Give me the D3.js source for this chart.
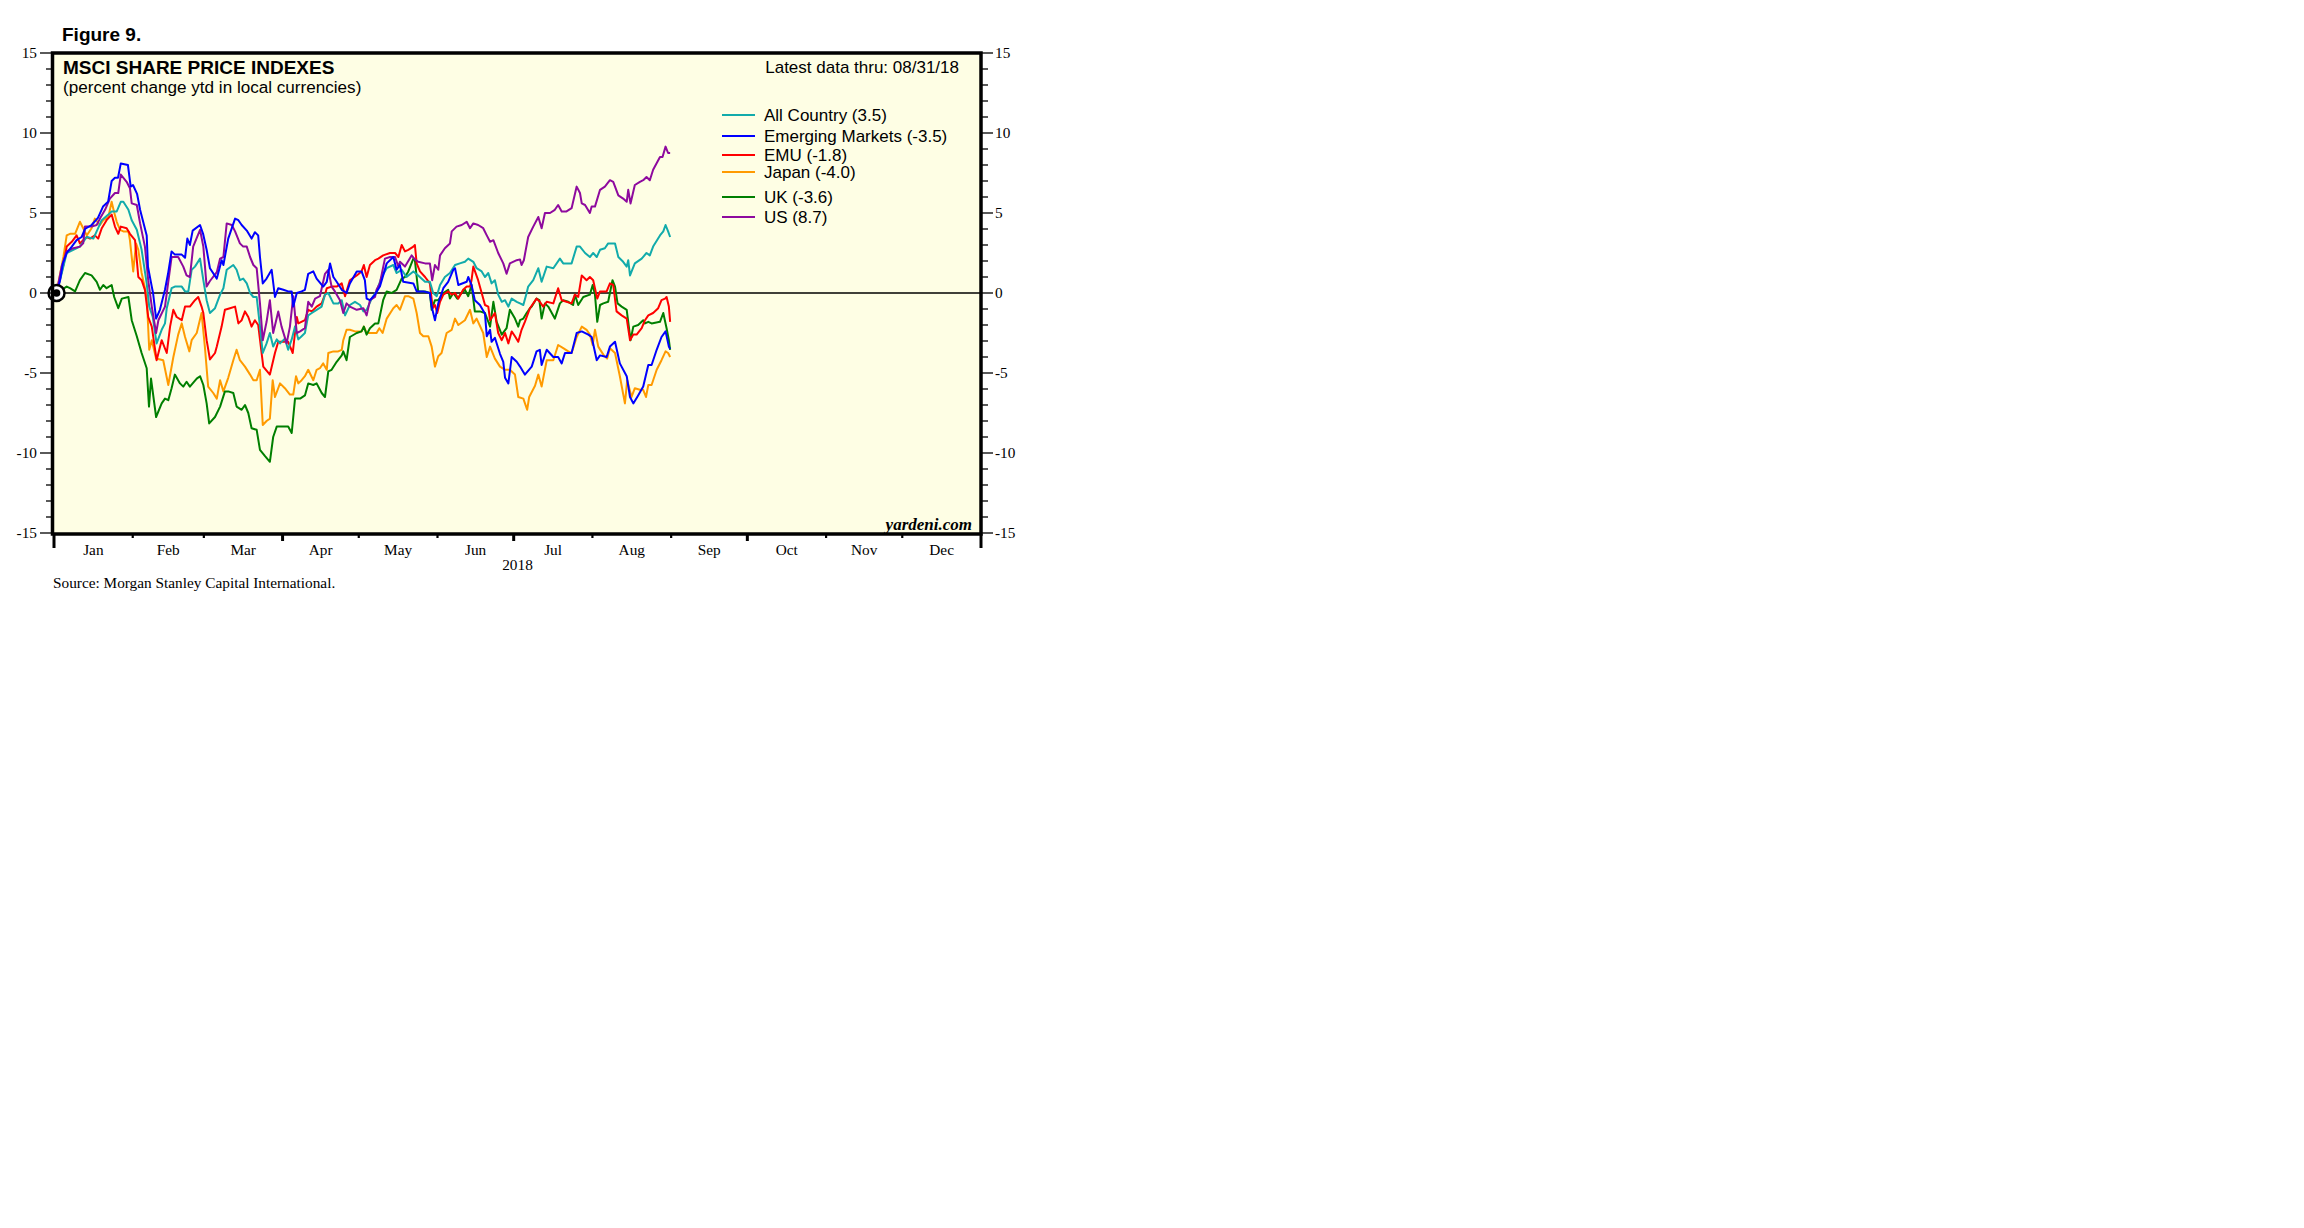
<!DOCTYPE html>
<html><head><meta charset="utf-8">
<script src="https://cdn.jsdelivr.net/npm/d3@7"></script>
<style>body{margin:0;background:#fff}</style>
</head><body>
<svg id="chart" width="2304" height="1228"></svg>
<script>
// ---- data: [day of 2018 (0 = Jan 1), % change ytd] ----
const allCountry = [[1,0],[3.0,1.2],[5.0,2.5],[7.6,2.7],[10.2,2.9],[11.5,3.2],[12.9,3.5],[15.5,3.4],[16.8,3.85],[18.8,4.55],[21.4,4.9],[22.7,5.1],[24.7,5.1],[26.3,5.7],[27.3,5.7],[29.3,5.2],[30.6,4.55],[32.6,3.95],[34.5,2.7],[36.5,0.6],[37.5,-0.85],[38.9,-1.5],[40.4,-3.15],[42.4,-2.3],[43.7,-1.9],[44.4,-0.95],[46.3,0.3],[47.6,0.4],[50.3,0.4],[51.6,0.1],[52.9,0.1],[54.2,1.45],[55.5,1.65],[57.5,2.15],[58.8,0.8],[60.1,-0.45],[61.4,-1.25],[63.4,-0.95],[64.1,-0.65],[65.4,-0.1],[66.7,0.3],[68.0,1.45],[70.6,1.75],[71.9,1.45],[73.2,0.8],[74.5,0.9],[75.9,0.6],[77.2,0],[78.5,-0.25],[79.8,-0.25],[81.1,-2.1],[82.2,-3.75],[83.7,-3.15],[85.0,-2.5],[86.3,-3.35],[87.7,-2.9],[89.0,-3.15],[90.9,-2.85],[92.2,-3.55],[93.6,-2.9],[94.9,-2.1],[96.2,-2.9],[97.5,-2.7],[98.8,-2.5],[100.1,-1.4],[101.5,-1.25],[103.4,-1.05],[105.4,-0.85],[106.7,-0.1],[108.0,0],[110.0,-0.65],[111.9,-0.65],[113.3,-0.45],[114.6,-1.4],[116.5,-0.75],[118.5,-0.55],[120.5,-0.75],[121.8,-1.15],[123.1,-1.05],[125.1,-0.35],[127.0,0.1],[129.0,1.0],[131.0,1.55],[133.6,1.75],[134.9,1.25],[136.9,1.45],[138.8,1.0],[141.5,1.35],[143.4,1.1],[146.1,0.7],[148.0,0.7],[149.3,0],[150.7,-0.2],[152.0,0.5],[153.9,1.0],[155.9,1.25],[157.9,1.75],[159.8,1.85],[161.8,1.95],[163.1,2.15],[165.1,1.95],[166.4,1.55],[168.4,1.35],[169.7,1.0],[171.0,1.25],[172.3,0.6],[173.6,0.8],[174.9,-0.1],[176.3,-0.55],[177.6,-0.45],[178.9,-0.85],[180.2,-0.35],[182.2,-0.55],[183.5,-0.65],[184.8,-0.75],[186.1,0],[186.7,0.4],[188.7,0.8],[190.7,1.55],[192.0,0.7],[194.0,1.65],[196.6,1.55],[199.2,2.15],[200.5,1.85],[203.8,1.85],[205.8,2.9],[207.1,2.9],[209.1,2.5],[211.0,2.25],[212.3,2.5],[213.7,2.25],[215.0,2.7],[216.9,2.8],[218.2,3.1],[220.9,3.1],[222.2,2.25],[224.1,1.95],[225.5,1.65],[226.1,2.05],[226.8,1.1],[228.7,1.85],[231.4,2.15],[233.3,2.5],[234.6,2.35],[235.9,2.9],[238.6,3.6],[239.9,3.85],[240.8,4.25],[241.8,3.85],[242.6,3.5]];
const emergingMarkets = [[1,0],[2.4,0.8],[3.5,1.85],[5.0,2.5],[7.0,2.9],[8.9,3.3],[10.9,3.5],[12.2,4.0],[14.8,4.25],[17.3,4.7],[19.3,5.4],[21.3,5.7],[22.7,7.0],[24.0,7.2],[25.2,7.2],[26.3,8.1],[29.1,8.0],[30.2,6.65],[31.1,6.75],[32.7,6.2],[33.9,5.2],[36.5,3.6],[37.0,1.65],[38.5,0.4],[39.0,0],[40.2,-1.6],[41.7,-1.05],[43.7,0.2],[44.9,1.2],[46.3,2.6],[47.6,2.4],[50.3,2.4],[51.6,2.2],[52.5,3.4],[53.5,3.0],[54.6,3.9],[57.5,4.25],[58.7,3.7],[60.1,2.7],[61.4,1.55],[64.1,0.9],[66.0,2.05],[66.7,1.75],[68.6,3.4],[71.3,4.65],[72.6,4.55],[73.9,4.25],[75.9,3.9],[77.8,3.4],[79.1,3.8],[80.4,3.6],[81.1,2.25],[82.2,0.6],[83.7,0.9],[85.7,1.45],[87.0,-0.25],[88.3,0.3],[90.3,0.2],[92.2,0.1],[93.6,0.1],[94.2,-0.85],[95.6,0],[97.5,0.1],[98.8,0.2],[100.1,1.2],[102.1,1.35],[103.4,0.9],[106.0,0.4],[107.4,0.7],[108.7,1.85],[110.0,1.0],[111.3,0.7],[113.3,0.2],[115.2,0],[116.5,0.6],[119.2,1.35],[121.1,1.35],[122.4,0.8],[123.1,-0.35],[124.4,-0.45],[126.4,-0.1],[128.3,0.4],[131.0,1.85],[133.6,2.25],[134.9,1.45],[136.2,1.75],[137.5,0.7],[141.5,0.6],[142.8,0.1],[145.4,0.1],[148.0,0],[148.7,-0.85],[150.0,-1.7],[151.3,-0.65],[153.3,0.3],[155.2,0.7],[157.2,1.45],[157.9,1.55],[159.2,0.5],[162.5,0.7],[163.1,1.0],[164.4,0.5],[165.7,-0.45],[167.7,-0.75],[169.7,-1.3],[170.4,-2.7],[171.7,-2.3],[172.3,-3.05],[173.6,-2.8],[175.6,-3.8],[176.9,-4.3],[177.6,-5.3],[178.9,-5.65],[180.2,-4.0],[182.2,-4.3],[183.5,-4.6],[185.4,-5.1],[188.1,-4.6],[190.0,-3.65],[191.3,-3.55],[192.0,-4.5],[194.0,-3.55],[196.6,-4.0],[198.5,-4.0],[199.9,-4.4],[201.2,-3.75],[203.8,-3.75],[205.8,-2.5],[207.8,-2.4],[210.4,-2.6],[211.7,-2.75],[213.7,-4.2],[215.0,-3.9],[217.6,-4.0],[218.9,-3.35],[220.9,-3.05],[222.8,-4.4],[225.5,-5.2],[226.8,-6.5],[228.1,-6.9],[230.0,-6.4],[232.0,-5.85],[234.0,-4.5],[235.3,-4.5],[237.3,-3.55],[239.2,-2.75],[240.8,-2.4],[242.1,-3.35],[242.6,-3.5]];
const emu = [[1,0],[3.7,1.75],[5.0,2.9],[7.0,3.2],[8.9,3.6],[10.2,3.1],[11.5,3.3],[12.9,3.5],[14.2,3.4],[16.1,3.6],[17.4,3.4],[18.8,4.05],[20.7,4.55],[22.7,4.9],[24.0,4.15],[25.3,3.7],[26.3,4.15],[28.6,4.05],[29.9,3.7],[31.9,3.3],[33.2,1.0],[34.5,0.8],[35.8,0.2],[37.1,-1.5],[38.5,-2.1],[40.4,-4.2],[42.4,-2.95],[44.4,-3.75],[45.7,-2.1],[47.0,-1.05],[48.3,-1.5],[50.3,-1.7],[51.6,-0.85],[53.5,-0.85],[55.5,-0.45],[56.8,-0.25],[58.1,-0.85],[58.8,-1.25],[60.1,-2.95],[61.4,-4.15],[63.4,-3.75],[64.1,-3.35],[66.0,-2.1],[67.3,-1.05],[69.3,-0.95],[71.3,-0.85],[72.6,-1.9],[73.9,-1.7],[75.2,-1.15],[76.5,-1.5],[77.8,-2.1],[79.1,-1.7],[80.4,-2.0],[82.4,-4.6],[85.0,-5.1],[87.0,-3.75],[88.3,-3.05],[90.3,-3.05],[92.2,-3.05],[94.0,-3.75],[95.6,-1.5],[96.2,-1.9],[98.8,-1.7],[100.1,-1.05],[101.5,-1.15],[103.4,-0.85],[105.4,-0.65],[106.7,-0.1],[107.4,0.3],[109.3,0.4],[111.3,0.4],[113.3,0.6],[114.6,-0.2],[116.5,0.8],[119.2,1.1],[121.1,1.35],[122.0,1.75],[123.1,1.0],[124.4,1.75],[126.4,2.05],[127.7,2.15],[129.6,2.35],[132.3,2.5],[134.3,2.5],[135.6,2.25],[136.9,3.0],[138.2,2.6],[139.5,2.7],[141.5,2.9],[142.1,3.0],[142.8,1.85],[144.1,1.35],[146.1,1.0],[148.0,0.6],[149.1,-0.95],[150.0,-0.75],[150.9,-1.25],[152.0,-0.55],[153.3,-0.1],[155.2,0.1],[156.6,-0.1],[157.9,0],[159.2,-0.35],[161.1,0.2],[162.5,0.4],[163.8,0.4],[164.4,0.8],[165.1,1.65],[167.0,0.8],[168.4,0],[169.7,-0.75],[171.0,-0.85],[171.7,-1.7],[173.6,-1.25],[174.9,-2.5],[176.3,-2.95],[177.6,-2.5],[178.9,-3.15],[180.2,-2.4],[181.5,-2.7],[182.8,-3.05],[184.1,-2.3],[185.4,-1.8],[187.4,-0.95],[190.0,-0.35],[191.3,-0.55],[192.6,-0.85],[194.0,-0.55],[196.6,-0.65],[198.5,0.3],[199.9,-0.45],[201.8,-0.55],[203.8,-0.65],[205.1,-0.1],[206.4,-0.25],[207.8,1.1],[209.7,0.8],[211.0,1.0],[212.3,0.8],[213.9,-0.35],[215.0,0.1],[217.6,0.1],[218.9,0.6],[220.2,0.5],[221.5,-1.15],[223.5,-1.4],[225.5,-1.6],[226.8,-2.95],[228.1,-2.6],[229.4,-2.6],[231.4,-2.2],[232.7,-1.7],[234.0,-1.4],[235.9,-1.25],[237.9,-0.95],[239.2,-0.45],[240.6,-0.35],[241.2,-0.25],[242.1,-0.85],[242.6,-1.8]];
const japan = [[1,0],[3.7,2.25],[5.0,3.6],[6.3,3.7],[8.3,3.7],[10.2,4.45],[11.5,4.05],[12.9,3.6],[14.8,4.05],[16.1,4.65],[18.1,4.25],[19.4,4.55],[21.4,4.75],[22.7,5.7],[23.6,5.1],[24.7,4.45],[26.0,3.95],[27.3,3.85],[29.3,3.85],[29.9,3.3],[31.2,1.35],[32.3,3.1],[33.2,2.7],[34.5,1.25],[36.5,-0.2],[37.5,-3.55],[38.5,-2.95],[40.2,-4.1],[43.0,-4.2],[45.0,-5.75],[47.0,-4.0],[48.9,-2.6],[50.3,-1.9],[51.6,-2.75],[53.3,-3.65],[54.2,-2.95],[56.2,-2.5],[58.1,-1.25],[59.4,-3.35],[60.7,-5.85],[62.7,-6.25],[64.1,-6.6],[65.4,-5.45],[66.7,-6.15],[68.6,-5.3],[70.6,-4.2],[71.9,-3.55],[73.2,-4.2],[75.2,-4.6],[77.2,-5.1],[78.5,-5.45],[79.8,-5.45],[81.1,-4.8],[82.2,-8.25],[83.7,-8.0],[85.0,-7.85],[86.1,-5.45],[87.0,-6.5],[89.0,-5.65],[90.9,-5.95],[92.9,-6.35],[94.2,-6.35],[95.3,-5.2],[96.2,-5.65],[97.5,-5.45],[98.8,-5.2],[100.1,-4.8],[102.1,-5.45],[103.4,-4.8],[104.7,-4.7],[106.0,-4.4],[107.4,-4.8],[108.0,-3.75],[110.0,-3.65],[111.9,-3.65],[113.3,-3.55],[113.9,-2.95],[115.2,-2.3],[116.5,-2.3],[118.5,-2.4],[121.1,-2.4],[122.0,-2.1],[123.1,-2.5],[125.7,-2.5],[127.0,-2.5],[128.1,-2.2],[129.4,-2.5],[131.0,-1.6],[133.6,-0.95],[134.9,-0.75],[136.2,-1.05],[138.2,-0.2],[139.5,-0.2],[141.5,-0.35],[142.8,-1.25],[144.1,-2.5],[145.4,-2.7],[147.4,-2.7],[148.7,-3.35],[150.0,-4.6],[151.3,-3.95],[152.6,-3.75],[154.6,-2.5],[156.6,-2.3],[157.9,-1.6],[159.2,-2.0],[161.8,-1.7],[163.8,-1.05],[165.1,-1.9],[166.4,-1.6],[169.0,-2.5],[170.4,-4.0],[171.7,-3.35],[173.6,-4.1],[175.6,-4.6],[177.6,-4.8],[179.5,-4.8],[181.5,-5.1],[182.8,-6.5],[184.8,-6.6],[186.3,-7.3],[187.1,-6.5],[189.4,-5.8],[190.7,-5.1],[192.0,-5.85],[194.0,-4.2],[196.6,-4.2],[198.5,-3.25],[200.5,-3.45],[202.5,-3.65],[203.8,-3.75],[205.8,-2.75],[207.8,-2.1],[209.7,-2.3],[211.0,-2.6],[212.1,-3.25],[213.0,-2.3],[214.3,-3.35],[216.3,-3.85],[217.8,-4.1],[218.9,-3.45],[220.9,-3.75],[222.8,-5.2],[224.8,-6.9],[225.7,-5.45],[227.4,-6.5],[228.7,-5.95],[230.7,-6.05],[232.0,-6.05],[233.1,-6.5],[234.0,-5.75],[235.3,-5.75],[237.3,-4.8],[239.2,-4.2],[240.8,-3.65],[241.8,-3.75],[242.6,-4.0]];
const uk = [[1,0],[5.0,0.4],[6.3,0.3],[8.3,0.1],[10.2,0.8],[12.2,1.25],[14.8,1.1],[16.8,0.7],[18.1,0.2],[19.4,0.5],[20.7,0.3],[22.7,0.5],[23.7,-0.25],[25.3,-0.95],[26.7,-0.35],[29.3,-0.25],[30.6,-1.7],[32.6,-2.7],[34.5,-3.75],[36.5,-4.7],[37.4,-7.1],[38.2,-5.35],[40.2,-7.75],[42.4,-6.9],[43.7,-6.6],[45.0,-6.7],[46.3,-5.95],[47.6,-5.1],[49.6,-5.65],[50.9,-5.85],[52.2,-5.55],[53.5,-5.85],[56.2,-5.35],[57.5,-5.2],[58.8,-5.75],[60.1,-6.9],[61.1,-8.15],[63.4,-7.75],[65.4,-7.1],[67.3,-6.15],[68.6,-6.15],[70.6,-6.25],[71.9,-7.1],[73.9,-7.3],[75.2,-7.0],[76.5,-7.5],[77.8,-8.45],[79.8,-8.55],[81.1,-9.8],[83.1,-10.2],[85.0,-10.55],[86.3,-9.0],[87.7,-8.35],[89.6,-8.35],[92.2,-8.35],[93.6,-8.75],[94.9,-6.6],[96.9,-6.6],[98.8,-6.4],[100.1,-5.65],[102.1,-5.75],[103.4,-5.65],[105.4,-6.25],[106.7,-6.5],[108.0,-4.9],[109.3,-4.8],[111.3,-4.3],[113.3,-3.9],[113.9,-3.65],[115.2,-4.2],[116.5,-2.75],[119.2,-2.5],[121.1,-2.4],[122.0,-2.1],[123.1,-2.6],[124.4,-2.2],[126.4,-1.9],[127.7,-1.9],[129.6,-0.45],[131.0,0.1],[132.9,0],[134.9,0.2],[136.9,0.9],[138.2,1.0],[139.5,1.35],[141.5,2.15],[142.1,2.05],[142.8,1.0],[143.4,0.1],[146.1,0.1],[148.0,0],[148.7,-1.05],[150.0,-0.45],[151.3,-0.45],[153.3,0],[155.2,0.2],[155.9,-0.35],[157.2,0],[158.8,-0.35],[160.5,0],[161.8,0.2],[163.1,-0.2],[164.4,0.5],[165.7,-1.15],[167.7,-1.15],[169.7,-1.25],[171.7,-2.1],[173.0,-0.55],[174.3,-1.8],[176.3,-2.6],[178.2,-2.2],[179.5,-1.05],[181.5,-1.6],[182.8,-2.1],[183.5,-1.7],[184.8,-1.6],[186.1,-1.25],[187.4,-0.95],[188.1,-0.85],[190.0,-0.35],[191.1,-0.45],[192.0,-1.6],[193.3,-0.65],[194.6,-0.85],[197.2,-1.6],[199.2,-0.65],[200.5,-0.45],[202.5,-0.55],[204.4,-0.75],[205.1,-0.1],[206.4,-0.75],[208.4,-0.25],[211.0,-0.1],[212.1,0.5],[213.0,-0.1],[213.9,-1.8],[215.0,-0.75],[216.3,-0.65],[218.2,-0.55],[219.9,0.8],[220.9,0.4],[221.9,-0.65],[223.5,-0.85],[225.5,-1.05],[227.0,-2.95],[228.1,-2.1],[230.0,-2.0],[232.0,-1.7],[232.7,-1.9],[234.0,-1.8],[235.3,-1.9],[238.6,-1.8],[239.9,-1.25],[241.2,-2.2],[242.1,-2.95],[242.6,-3.55]];
const us = [[1,0],[3.0,1.65],[5.0,2.6],[7.6,2.8],[10.2,2.9],[11.5,3.1],[12.2,4.15],[14.8,4.15],[16.8,4.25],[18.1,4.65],[20.1,5.2],[22.0,5.9],[24.0,6.25],[25.3,6.25],[26.3,7.4],[28.6,6.95],[29.9,6.55],[30.6,5.6],[32.6,5.5],[33.9,4.35],[35.8,2.9],[37.1,0.8],[38.5,-0.85],[40.2,-2.5],[41.1,-1.7],[43.7,-0.85],[46.3,2.25],[48.9,2.25],[50.9,1.65],[52.2,1.1],[53.5,1.0],[54.8,2.9],[57.5,3.95],[58.8,2.9],[60.1,0.4],[61.4,0.75],[64.1,1.3],[65.4,2.15],[66.7,2.25],[68.0,4.35],[70.0,4.25],[71.3,3.85],[73.2,3.1],[74.5,2.9],[75.9,2.9],[77.2,2.25],[78.5,1.75],[79.8,1.55],[81.1,-0.65],[82.2,-2.95],[83.7,-1.8],[85.0,-0.45],[86.3,-2.5],[88.3,-1.15],[89.6,-2.1],[91.6,-3.15],[92.9,-2.1],[94.2,-0.2],[95.6,-2.5],[96.9,-2.4],[98.8,-2.2],[100.1,-0.55],[101.5,-0.85],[102.8,-0.35],[104.7,-0.2],[106.7,1.2],[108.0,1.45],[109.3,0.4],[110.6,0.1],[112.6,-0.45],[113.9,-1.25],[115.2,-0.65],[116.5,-0.85],[119.2,-1.05],[121.8,-0.95],[123.1,-1.4],[124.4,-0.45],[126.4,-0.25],[127.0,0.2],[128.3,0.6],[130.3,2.15],[132.3,2.25],[134.3,2.25],[135.6,1.65],[136.2,1.95],[138.2,1.65],[140.8,2.35],[142.1,2.1],[143.4,1.95],[146.1,1.85],[148.0,1.85],[148.9,0.8],[150.0,1.75],[151.3,1.45],[152.0,2.35],[153.9,2.8],[155.9,3.1],[156.6,3.85],[158.5,4.15],[160.5,4.25],[162.5,4.45],[163.8,4.05],[165.1,4.35],[167.0,4.25],[169.0,4.05],[170.4,3.6],[171.7,3.2],[173.0,3.3],[174.9,2.5],[176.9,1.85],[178.2,1.2],[179.5,1.85],[182.2,2.05],[183.5,2.1],[184.1,1.75],[185.0,2.05],[186.7,3.5],[188.7,4.15],[190.7,4.75],[192.0,4.05],[193.3,5.0],[195.3,5.0],[197.2,5.2],[198.5,5.5],[199.9,5.1],[201.8,5.1],[203.8,5.3],[205.8,6.65],[207.1,6.25],[207.8,5.6],[209.1,5.5],[211.0,5.0],[211.7,5.4],[213.0,5.4],[215.0,6.45],[216.9,6.65],[218.9,7.05],[220.2,6.95],[222.2,6.1],[224.1,5.9],[225.5,5.7],[226.1,6.45],[227.0,5.6],[228.7,6.75],[230.7,6.95],[232.0,7.05],[233.3,7.25],[234.6,7.05],[235.9,7.7],[238.6,8.5],[239.6,8.5],[240.8,9.15],[241.8,8.75],[242.6,8.75]];

const seriesNames = ["All Country (3.5)","Emerging Markets (-3.5)","EMU (-1.8)","Japan (-4.0)","UK (-3.6)","US (8.7)"];
const seriesValues = [allCountry, emergingMarkets, emu, japan, uk, us];
const seriesColors = ["#12abab","#0000ff","#ff0000","#ff9a00","#007f00","#8e0a9e"];
const drawOrder = [3, 4, 2, 0, 5, 1];
const monthLabels = ["Jan","Feb","Mar","Apr","May","Jun","Jul","Aug","Sep","Oct","Nov","Dec"];
const yearLabel = "2018";
const yTickValues = [-15,-10,-5,0,5,10,15];
const figureLabel = "Figure 9.";
const titleText = "MSCI SHARE PRICE INDEXES";
const subtitleText = "(percent change ytd in local currencies)";
const latestText = "Latest data thru: 08/31/18";
const sourceText = "Source: Morgan Stanley Capital International.";
const creditText = "yardeni.com";

// ---- layout ----
const L = 52.5, R = 981, T = 53, B = 534;
const t0 = Date.UTC(2018,0,1), t1 = Date.UTC(2019,0,1);
const x = d3.scaleUtc().domain([t0, t1]).range([54, 981]);
const y = d3.scaleLinear().domain([-15, 15]).range([533, 53]);
const dayDate = d => new Date(t0 + d * 864e5);

const svg = d3.select("#chart");
svg.append("rect").attr("width",2304).attr("height",1228).attr("fill","#fff");

const sans = "'Liberation Sans', Arial, Helvetica, sans-serif";
const serif = "'Liberation Serif', 'Times New Roman', Times, serif";

svg.append("text").attr("x",62).attr("y",41).attr("font-family",sans).attr("font-weight","bold")
  .attr("font-size",19).text(figureLabel);

// plot background
svg.append("rect").attr("x",L).attr("y",T).attr("width",R-L).attr("height",B-T).attr("fill","#fefee4");

svg.append("defs").append("clipPath").attr("id","clip").append("rect")
  .attr("x",L).attr("y",T).attr("width",R-L).attr("height",B-T);

// zero line
svg.append("line").attr("x1",L).attr("x2",R).attr("y1",y(0)).attr("y2",y(0))
  .attr("stroke","#000").attr("stroke-width",1.4);

// series
const line = d3.line().x(d => x(dayDate(d[0]))).y(d => y(d[1]));
const g = svg.append("g").attr("clip-path","url(#clip)");
drawOrder.forEach(i => {
  g.append("path").datum(seriesValues[i]).attr("d", line)
    .attr("fill","none").attr("stroke",seriesColors[i]).attr("stroke-width",2)
    .attr("stroke-linejoin","round");
});

// origin marker
const ox = x(dayDate(allCountry[0][0])), oy = y(0);
svg.append("circle").attr("cx",ox).attr("cy",oy).attr("r",8).attr("fill","#fff")
  .attr("stroke","#000").attr("stroke-width",2.5);
svg.append("circle").attr("cx",ox).attr("cy",oy).attr("r",3.8).attr("fill","#000");

// frame
svg.append("rect").attr("x",L).attr("y",T).attr("width",R-L).attr("height",B-T)
  .attr("fill","none").attr("stroke","#000").attr("stroke-width",3.5);

// y ticks left & right
const yMinor = d3.range(-15, 16, 1);
svg.append("g").selectAll("line").data(yMinor).join("line")
  .attr("x1", d => d % 5 === 0 ? 40 : 46).attr("x2", L)
  .attr("y1", d => y(d)).attr("y2", d => y(d)).attr("stroke","#000").attr("stroke-width",1.3);
svg.append("g").selectAll("line").data(yMinor).join("line")
  .attr("x1", R).attr("x2", d => d % 5 === 0 ? 993 : 988)
  .attr("y1", d => y(d)).attr("y2", d => y(d)).attr("stroke","#000").attr("stroke-width",1.3);
svg.append("g").selectAll("text").data(yTickValues).join("text")
  .attr("x",37).attr("y", d => y(d)).attr("dy","0.35em").attr("text-anchor","end")
  .attr("font-family",serif).attr("font-size",15.3).text(d => d);
svg.append("g").selectAll("text").data(yTickValues).join("text")
  .attr("x",995).attr("y", d => y(d)).attr("dy","0.35em").attr("text-anchor","start")
  .attr("font-family",serif).attr("font-size",15.3).text(d => d);

// x ticks
const months = d3.utcMonth.range(new Date(t0), new Date(t1 + 1));
svg.append("g").selectAll("line").data(months).join("line")
  .attr("x1", d => x(d)).attr("x2", d => x(d)).attr("y1", B)
  .attr("y2", d => d.getUTCMonth() === 0 ? B + 14 : (d.getUTCMonth() % 3 === 0 ? B + 7 : B + 4))
  .attr("stroke","#000").attr("stroke-width", d => d.getUTCMonth() % 3 === 0 ? 3 : 2.2);
svg.append("g").selectAll("text").data(monthLabels).join("text")
  .attr("x", (d,i) => (x(Date.UTC(2018,i,1)) + x(Date.UTC(2018,i+1,1))) / 2)
  .attr("y", 555).attr("text-anchor","middle").attr("font-family",serif).attr("font-size",15.3).text(d => d);
svg.append("text").attr("x",(x(t0)+x(t1))/2).attr("y",570).attr("text-anchor","middle")
  .attr("font-family",serif).attr("font-size",15.3).text(yearLabel);

// titles
svg.append("text").attr("x",63).attr("y",74).attr("font-family",sans).attr("font-weight","bold")
  .attr("font-size",19).text(titleText);
svg.append("text").attr("x",63).attr("y",93).attr("font-family",sans).attr("font-size",17.1).text(subtitleText);
svg.append("text").attr("x",959).attr("y",73).attr("text-anchor","end").attr("font-family",sans)
  .attr("font-size",17).text(latestText);

// legend
const legendY = [115, 136, 155, 172, 197, 217];
const lg = svg.append("g");
seriesNames.forEach((n, i) => {
  lg.append("line").attr("x1",722).attr("x2",755).attr("y1",legendY[i]).attr("y2",legendY[i])
    .attr("stroke",seriesColors[i]).attr("stroke-width",2);
  lg.append("text").attr("x",764).attr("y",legendY[i]).attr("dy","0.36em")
    .attr("font-family",sans).attr("font-size",17).text(n);
});

svg.append("text").attr("x",972).attr("y",530).attr("text-anchor","end").attr("font-family",serif)
  .attr("font-weight","bold").attr("font-style","italic").attr("font-size",17).text(creditText);

svg.append("text").attr("x",53).attr("y",588).attr("font-family",serif).attr("font-size",15.3).text(sourceText);
</script>
</body></html>
